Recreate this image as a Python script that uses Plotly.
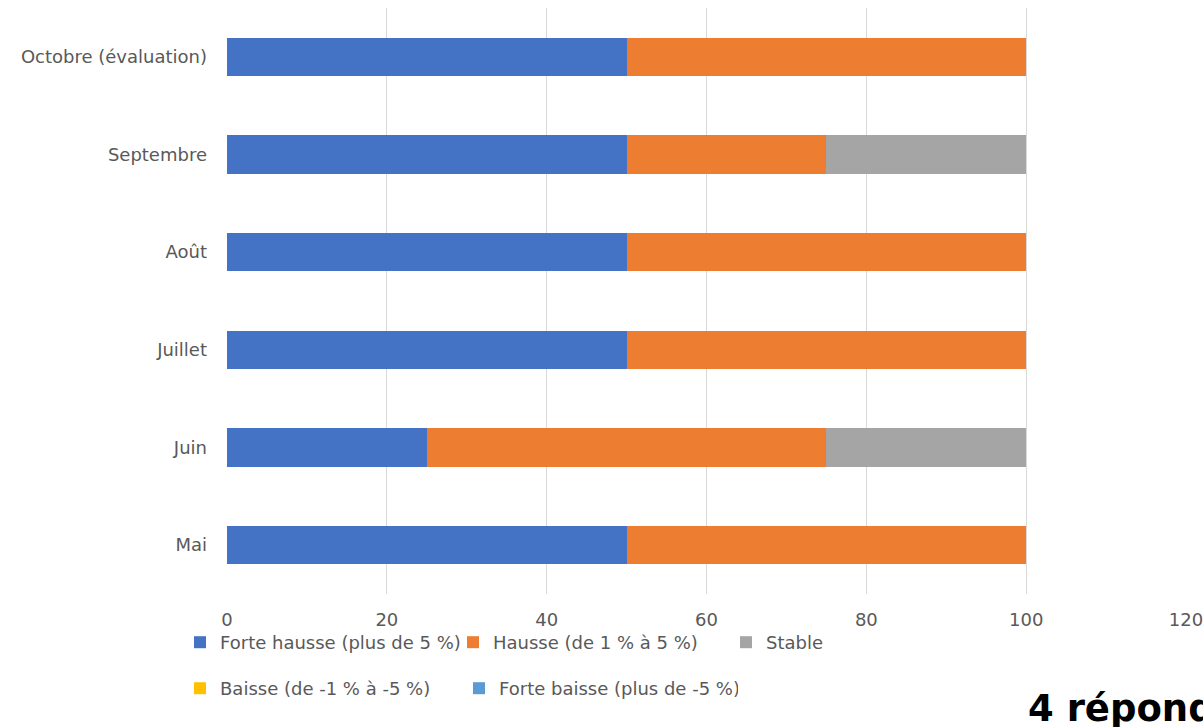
import plotly.graph_objects as go

categories = ["Mai", "Juin", "Juillet", "Août", "Septembre", "Octobre (évaluation)"]
forte_hausse = [50, 25, 50, 50, 50, 50]
hausse = [50, 50, 50, 50, 25, 50]
stable = [0, 25, 0, 0, 25, 0]
baisse = [0, 0, 0, 0, 0, 0]
forte_baisse = [0, 0, 0, 0, 0, 0]
x_ticks = [0, 20, 40, 60, 80, 100, 120]

series = [
    ("Forte hausse (plus de 5 %)", forte_hausse, "#4472C4", "legend"),
    ("Hausse (de 1 % à 5 %)", hausse, "#ED7D31", "legend"),
    ("Stable", stable, "#A5A5A5", "legend"),
    ("Baisse (de -1 % à -5 %)", baisse, "#FFC000", "legend2"),
    ("Forte baisse (plus de -5 %)", forte_baisse, "#5B9BD5", "legend2"),
]

FONT = "'DejaVu Sans', sans-serif"

fig = go.Figure()
for name, vals, color, leg in series:
    fig.add_trace(go.Bar(
        y=categories, x=vals, name=name, orientation="h",
        marker=dict(color=color, line=dict(width=0)),
        legend=leg,
    ))

fig.update_layout(
    width=1203, height=727,
    margin=dict(l=227, r=17, t=8, b=133),
    barmode="stack", bargap=0.61,
    plot_bgcolor="white", paper_bgcolor="white",
    font=dict(family=FONT, size=18, color="#595959"),
    xaxis=dict(range=[0, 120], tickvals=x_ticks, showgrid=True,
               gridcolor="#D9D9D9", gridwidth=1, zeroline=False,
               showline=False, ticks="", automargin=False,
               ticklabelstandoff=13, ticklabeloverflow="allow",
               tickfont=dict(size=18, color="#595959")),
    yaxis=dict(categoryorder="array", categoryarray=categories,
               showgrid=False, showline=False, ticks="", ticklabelstandoff=19,
               automargin=False,
               tickfont=dict(size=18, color="#595959")),
    legend=dict(orientation="h", xref="container", yref="container",
                x=180/1203, y=1-(624/727), xanchor="left", yanchor="top",
                entrywidth=228, font=dict(size=18, color="#595959"),
                bgcolor="rgba(0,0,0,0)",
                itemclick=False, traceorder="normal"),
    legend2=dict(orientation="h", xref="container", yref="container",
                 x=180/1203, y=1-(670/727), xanchor="left", yanchor="top",
                 entrywidth=234, font=dict(size=18, color="#595959"),
                 bgcolor="rgba(0,0,0,0)",
                 itemclick=False, traceorder="normal"),
    annotations=[dict(text="<b>4 répondants</b>", xref="paper", yref="paper",
                      x=(1026-227)/(1186-227), y=-(732-594)/586,
                      xanchor="left", yanchor="bottom", showarrow=False,
                      font=dict(family=FONT, size=37, color="#000000"))],
)

fig.write_html("out.html")
